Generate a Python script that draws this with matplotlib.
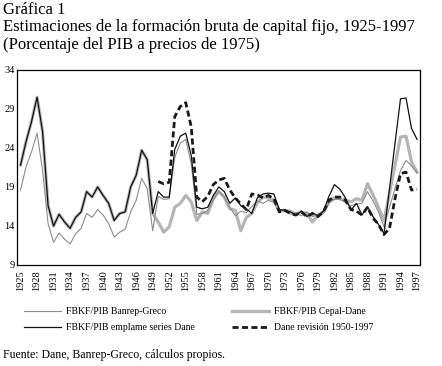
import matplotlib
matplotlib.use("Agg")
import matplotlib.pyplot as plt
import numpy as np

plt.rcParams["font.family"] = ["Liberation Serif", "DejaVu Serif"]

years = list(range(1925, 1998))

# FBKF/PIB Banrep-Greco (1925-1997)
banrep = [18.6, 21.6, 23.5, 25.9, 21.1, 14.3, 11.9, 13.1, 12.3, 11.7,
          13.0, 13.7, 15.6, 15.1, 16.1, 15.4, 14.3, 12.6, 13.2, 13.6,
          15.8, 17.3, 20.1, 18.8, 13.4, 17.8, 17.4, 17.5, 22.8, 24.6,
          25.1, 22.0, 15.5, 15.6, 16.0, 17.3, 18.5, 17.7, 16.4, 15.3,
          15.9, 15.7, 16.5, 17.2, 16.9, 17.3, 17.0, 15.9, 16.1, 15.5,
          15.7, 15.3, 15.8, 15.2, 15.5, 15.6, 17.0, 17.4, 17.4, 17.0,
          16.6, 16.8, 16.9, 18.4, 17.2, 15.8, 13.9, 16.4, 18.8, 21.1,
          22.4, 21.7, 20.8]

# FBKF/PIB emplame series Dane (1925-1997)
emplame = [21.8, 24.8, 27.4, 30.5, 26.1, 16.6, 14.0, 15.5, 14.5, 13.7,
           15.1, 15.8, 18.4, 17.7, 19.0, 17.9, 16.9, 14.7, 15.6, 15.8,
           19.0, 20.5, 23.7, 22.5, 15.6, 18.4, 17.7, 17.7, 23.8, 25.5,
           25.9, 23.0, 16.4, 16.2, 16.4, 17.9, 19.0, 18.4, 16.9, 17.6,
           16.6, 16.2, 15.6, 17.6, 18.1, 18.2, 18.1, 16.1, 16.0, 15.8,
           15.4, 15.9, 15.2, 15.7, 15.3, 15.9, 17.8, 19.3, 18.7, 17.6,
           16.0, 16.9, 15.4, 16.5, 15.2, 14.2, 13.0, 18.8, 24.6, 30.3,
           30.4, 26.5, 25.1]

# FBKF/PIB Cepal-Dane (1925-1997), same as the splice before 1950
cepal = emplame[:25] + [
    14.5, 13.2, 13.9, 16.4, 16.9, 17.9, 17.1, 14.7, 15.8, 15.6,
    17.5, 18.4, 17.7, 16.2, 16.0, 13.4, 15.1, 15.6, 17.0, 17.7,
    17.6, 17.3, 15.9, 16.0, 15.9, 15.5, 15.8, 15.6, 14.5, 15.4,
    15.8, 17.0, 17.6, 17.5, 17.3, 17.1, 17.5, 17.3, 19.4, 18.0,
    16.4, 14.7, 18.2, 21.8, 25.4, 25.5, 22.2, 20.9]

# Dane revision 1950-1997
rev_years = list(range(1950, 1998))
revision = [19.7, 19.4, 19.6, 28.0, 29.3, 29.8, 26.7, 17.7, 17.1, 17.8,
            19.3, 19.9, 20.1, 18.6, 17.6, 16.8, 16.1, 18.1, 18.0, 17.6,
            17.9, 17.5, 15.8, 16.0, 15.6, 15.4, 15.8, 15.2, 15.6, 15.2,
            15.8, 17.3, 17.7, 17.7, 17.3, 16.1, 15.9, 15.4, 16.4, 15.0,
            14.2, 12.9, 13.7, 17.5, 20.7, 20.9, 18.6, 18.7]

fig = plt.figure(figsize=(4.42, 3.66), dpi=100)
ax = fig.add_axes([0.039, 0.276, 0.912, 0.533])

l_cepal, = ax.plot(years, cepal, color="#b5b5b5", lw=2.3,
                   label="FBKF/PIB Cepal-Dane")
l_banrep, = ax.plot(years, banrep, color="#8c8c8c", lw=0.8,
                    label="FBKF/PIB Banrep-Greco")
l_emp, = ax.plot(years, emplame, color="#111111", lw=0.9,
                 label="FBKF/PIB emplame series Dane")
l_rev, = ax.plot(rev_years, revision, color="#1a1a1a", lw=2.0,
                 dashes=(2.2, 1.2), label="Dane revisión 1950-1997")

ax.set_xlim(1924.4, 1997.6)
ax.set_ylim(9, 34)
ax.set_yticks([9, 14, 19, 24, 29, 34])
ax.set_xticks(years[::3])
ax.set_xticklabels([str(y) for y in years[::3]], rotation=90, fontsize=7.5)
ax.tick_params(axis="y", labelsize=7.5, length=0, pad=2)
ax.tick_params(axis="x", length=0, pad=4)
for s in ax.spines.values():
    s.set_linewidth(0.9)

fig.text(0.007, 0.995, "Gráfica 1", fontsize=12, va="top")
fig.text(0.007, 0.947, "Estimaciones de la formación bruta de capital fijo, 1925-1997",
         fontsize=12, va="top")
fig.text(0.007, 0.898, "(Porcentaje del PIB a precios de 1975)", fontsize=12, va="top")

fig.legend([l_banrep, l_emp, l_cepal, l_rev],
           [l_banrep.get_label(), l_emp.get_label(), l_cepal.get_label(), l_rev.get_label()],
           ncol=2, loc="upper left", bbox_to_anchor=(0.045, 0.172), frameon=False,
           fontsize=7, handlelength=3.8, handletextpad=0.5, columnspacing=3.9,
           labelspacing=0.75, borderaxespad=0)

fig.text(0.007, 0.015, "Fuente: Dane, Banrep-Greco, cálculos propios.", fontsize=8.5,
         va="bottom")

fig.savefig("out.png", dpi=100)
